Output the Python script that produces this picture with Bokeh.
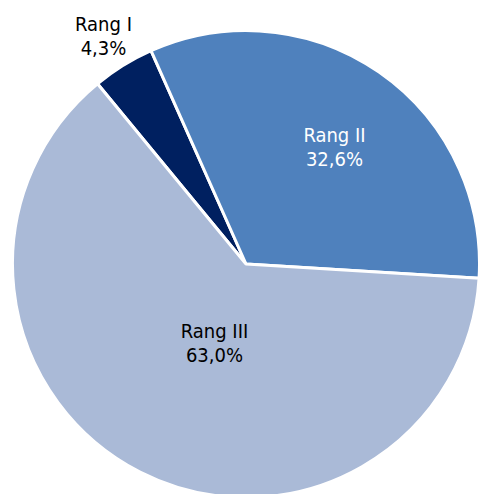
import math
from bokeh.plotting import figure
from bokeh.models import ColumnDataSource
from bokeh.core.properties import value
from bokeh.embed import file_html
from bokeh.resources import INLINE

# data
categories = ["Rang I", "Rang II", "Rang III"]
shares = [4.3, 32.6, 63.0]
colors = ["#002060", "#4F81BD", "#AABAD7"]
label_colors = ["#000000", "#FFFFFF", "#000000"]

W, H = 479, 494
cx, cy, R = 245.5, H - 263.5, 233.5
start_deg = 129.5

total = sum(shares)
starts, ends = [], []
a = start_deg
for s in shares:
    starts.append(math.radians(a))
    a -= s / total * 360.0
    ends.append(math.radians(a))

p = figure(width=W, height=H, x_range=(0, W), y_range=(0, H),
           output_backend="svg", toolbar_location=None,
           min_border=0, outline_line_color=None)
p.axis.visible = False
p.grid.visible = False
p.background_fill_color = "white"
p.border_fill_color = "white"

src = ColumnDataSource(dict(start=starts, end=ends, color=colors, cat=categories))
p.wedge(x=cx, y=cy, radius=R, start_angle="start", end_angle="end",
        direction="clock", fill_color="color", line_color="white",
        line_width=3, source=src)

# label centre positions (page px)
lab_x = [103, 334, 214]
lab_base1 = [23, 134, 330]
lab_base2 = [47, 158, 354]

names = categories
pcts = [("%.1f" % s).replace(".", ",") + "%" for s in shares]

font = value("DejaVu Sans Condensed")
lsrc = ColumnDataSource(dict(
    x=lab_x,
    y1=[H - y for y in lab_base1],
    y2=[H - y for y in lab_base2],
    name=names, pct=pcts, tc=label_colors))
p.text(x="x", y="y1", text="name", source=lsrc, text_align="center",
       text_baseline="alphabetic", text_font=font, text_font_size="20px",
       text_color="tc")
p.text(x="x", y="y2", text="pct", source=lsrc, text_align="center",
       text_baseline="alphabetic", text_font=font, text_font_size="20px",
       text_color="tc")

open("out.html", "w").write(file_html(p, INLINE))
